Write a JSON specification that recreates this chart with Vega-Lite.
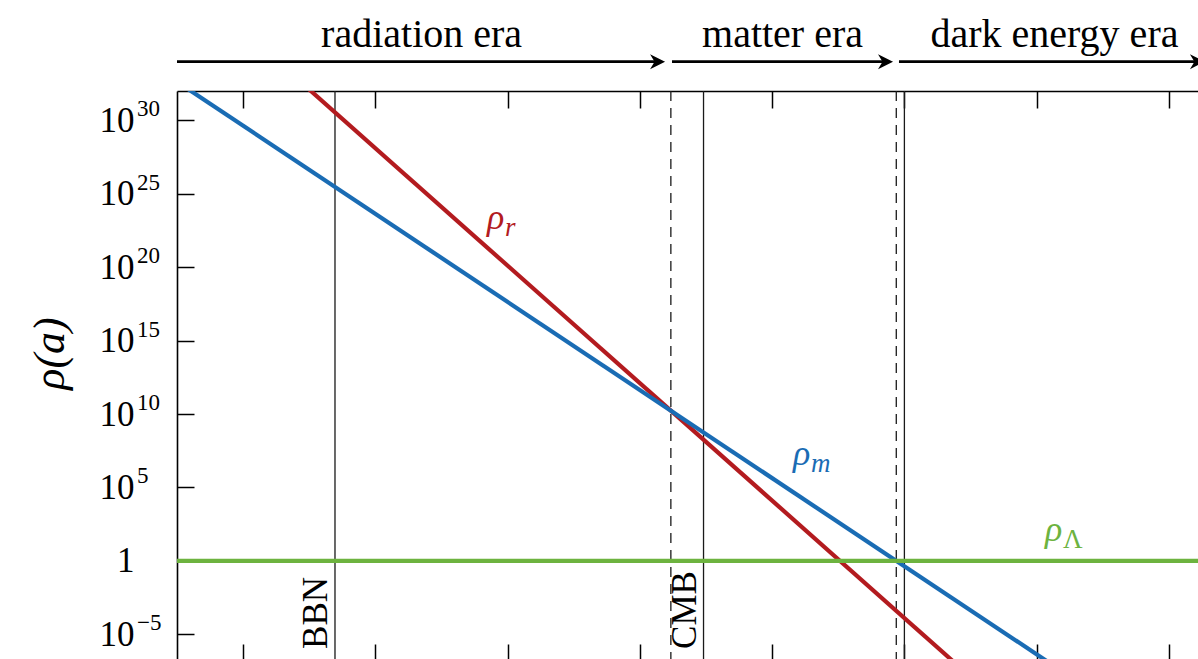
{
  "$schema": "https://vega.github.io/schema/vega-lite/v6.json",
  "width": 1021,
  "height": 568,
  "autosize": {"type": "none"},
  "padding": {"left": 177, "top": 91, "right": 0, "bottom": 0},
  "background": "white",
  "config": {
    "view": {"stroke": null},
    "font": "Liberation Serif",
    "text": {"font": "Liberation Serif"},
    "axis": {"grid": false, "domainColor": "#000000", "tickColor": "#000000", "domainWidth": 1.6, "tickWidth": 1.5, "labelColor": "#000000", "titleColor": "#000000"}
  },
  "datasets": {
    "densities": [
      {"series": "rho_r", "a": 1e-11, "rho": 1.26e40},
      {"series": "rho_r", "a": 27542, "rho": 2.2e-22},
      {"series": "rho_m", "a": 1e-11, "rho": 4.286e32},
      {"series": "rho_m", "a": 27542, "rho": 2.05e-14},
      {"series": "rho_L", "a": 1e-11, "rho": 1},
      {"series": "rho_L", "a": 27542, "rho": 1}
    ],
    "epochs": [
      {"name": "BBN", "a": 2.45e-9, "kind": "event"},
      {"name": "CMB", "a": 9.17e-4, "kind": "event"},
      {"name": "", "a": 1, "kind": "event"},
      {"name": "", "a": 2.94e-4, "kind": "equality"},
      {"name": "", "a": 0.7539, "kind": "equality"}
    ],
    "curveLabels": [
      {"series": "rho_r", "a": 4.89e-7, "rho": 4.17e22, "sub": "r"},
      {"series": "rho_m", "a": 0.0207, "rho": 3.43e6, "sub": "m"},
      {"series": "rho_L", "a": 133.7, "rho": 22.7, "sub": "Λ"}
    ],
    "eras": [
      {"era": "radiation era", "start": 1e-11, "end": 1.85e-4, "mid": 5.0e-8},
      {"era": "matter era", "start": 3.06e-4, "end": 0.518, "mid": 0.01435},
      {"era": "dark energy era", "start": 0.828, "end": 27000, "mid": 185.8}
    ],
    "exponents": [
      {"rho": 1e30, "exp": "30"},
      {"rho": 1e25, "exp": "25"},
      {"rho": 1e20, "exp": "20"},
      {"rho": 1e15, "exp": "15"},
      {"rho": 1e10, "exp": "10"},
      {"rho": 1e5, "exp": "5"},
      {"rho": 1e-5, "exp": "−5"}
    ]
  },
  "resolve": {"axis": {"x": "independent", "y": "independent"}},
  "layer": [
    {
      "data": {"name": "epochs"},
      "mark": {"type": "rule", "color": "#1a1a1a", "strokeWidth": 1.3},
      "encoding": {
        "x": {"field": "a", "type": "quantitative", "scale": {"type": "log", "domain": [1e-11, 27542], "nice": false},
          "axis": {"orient": "bottom", "values": [1e-10, 1e-8, 1e-6, 1e-4, 0.01, 1, 100, 10000], "labels": false, "domain": false, "tickSize": -15, "title": null}},
        "strokeDash": {"field": "kind", "type": "nominal", "scale": {"domain": ["event", "equality"], "range": [[1, 0], [10, 7]]}, "legend": null}
      }
    },
    {
      "data": {"name": "densities"},
      "mark": {"type": "line", "clip": true},
      "encoding": {
        "x": {"field": "a", "type": "quantitative", "scale": {"type": "log", "domain": [1e-11, 27542], "nice": false},
          "axis": {"orient": "top", "values": [1e-10, 1e-8, 1e-6, 1e-4, 0.01, 1, 100, 10000], "labels": false, "domain": true, "tickSize": -17, "title": null}},
        "y": {"field": "rho", "type": "quantitative", "scale": {"type": "log", "domain": [2.065e-7, 1e32], "nice": false},
          "axis": {"orient": "left", "values": [1e-5, 1, 1e5, 1e10, 1e15, 1e20, 1e25, 1e30], "tickSize": -17, "domain": true,
            "labelExpr": "datum.value == 1 ? '1' : '10'",
            "labelAlign": "right", "labelBaseline": "middle", "labelPadding": 60, "labelFontSize": 35, "labelFont": "Liberation Serif",
            "title": "ρ(a)", "titleFontSize": 44, "titleFontStyle": "italic", "titleFontWeight": 300, "titleFont": "Liberation Serif",
            "titleX": -127, "titleY": 262, "titleAngle": 270, "titleAlign": "center", "titleBaseline": "middle"}},
        "color": {"field": "series", "type": "nominal", "scale": {"domain": ["rho_r", "rho_m", "rho_L"], "range": ["#b31b1f", "#1a6cb4", "#6db33f"]}, "legend": null},
        "strokeWidth": {"field": "series", "type": "nominal", "scale": {"domain": ["rho_r", "rho_m", "rho_L"], "range": [4.2, 4.2, 5.6]}, "legend": null}
      }
    },
    {
      "data": {"name": "exponents"},
      "mark": {"type": "text", "align": "left", "baseline": "alphabetic", "fontSize": 23, "dx": -40, "dy": -4, "color": "#000000", "font": "Liberation Serif"},
      "encoding": {
        "x": {"datum": 1e-11, "type": "quantitative", "scale": {"type": "log", "domain": [1e-11, 27542], "nice": false}, "axis": null},
        "y": {"field": "rho", "type": "quantitative", "scale": {"type": "log", "domain": [2.065e-7, 1e32], "nice": false}, "axis": null},
        "text": {"field": "exp"}
      }
    },
    {
      "data": {"name": "epochs"},
      "transform": [{"filter": "datum.name != ''"}],
      "mark": {"type": "text", "angle": 270, "align": "left", "baseline": "alphabetic", "dy": -8, "fontSize": 35, "color": "#000000", "font": "Liberation Serif"},
      "encoding": {
        "x": {"field": "a", "type": "quantitative", "scale": {"type": "log", "domain": [1e-11, 27542], "nice": false}, "axis": null},
        "y": {"datum": 1e-6, "type": "quantitative", "scale": {"type": "log", "domain": [2.065e-7, 1e32], "nice": false}, "axis": null},
        "text": {"field": "name"}
      }
    },
    {
      "data": {"name": "curveLabels"},
      "mark": {"type": "text", "align": "left", "baseline": "alphabetic", "fontSize": 36, "fontStyle": "italic", "font": "Liberation Serif"},
      "encoding": {
        "x": {"field": "a", "type": "quantitative", "scale": {"type": "log", "domain": [1e-11, 27542], "nice": false}, "axis": null},
        "y": {"field": "rho", "type": "quantitative", "scale": {"type": "log", "domain": [2.065e-7, 1e32], "nice": false}, "axis": null},
        "text": {"value": "ρ"},
        "color": {"field": "series", "type": "nominal", "scale": {"domain": ["rho_r", "rho_m", "rho_L"], "range": ["#b31b1f", "#1a6cb4", "#6db33f"]}, "legend": null}
      }
    },
    {
      "data": {"name": "curveLabels"},
      "transform": [{"filter": "datum.sub != 'Λ'"}],
      "mark": {"type": "text", "align": "left", "baseline": "alphabetic", "fontSize": 27, "fontStyle": "italic", "dx": 18, "dy": 7, "font": "Liberation Serif"},
      "encoding": {
        "x": {"field": "a", "type": "quantitative", "scale": {"type": "log", "domain": [1e-11, 27542], "nice": false}, "axis": null},
        "y": {"field": "rho", "type": "quantitative", "scale": {"type": "log", "domain": [2.065e-7, 1e32], "nice": false}, "axis": null},
        "text": {"field": "sub"},
        "color": {"field": "series", "type": "nominal", "scale": {"domain": ["rho_r", "rho_m", "rho_L"], "range": ["#b31b1f", "#1a6cb4", "#6db33f"]}, "legend": null}
      }
    },
    {
      "data": {"name": "curveLabels"},
      "transform": [{"filter": "datum.sub == 'Λ'"}],
      "mark": {"type": "text", "align": "left", "baseline": "alphabetic", "fontSize": 27, "dx": 18, "dy": 7, "font": "Liberation Serif"},
      "encoding": {
        "x": {"field": "a", "type": "quantitative", "scale": {"type": "log", "domain": [1e-11, 27542], "nice": false}, "axis": null},
        "y": {"field": "rho", "type": "quantitative", "scale": {"type": "log", "domain": [2.065e-7, 1e32], "nice": false}, "axis": null},
        "text": {"field": "sub"},
        "color": {"field": "series", "type": "nominal", "scale": {"domain": ["rho_r", "rho_m", "rho_L"], "range": ["#b31b1f", "#1a6cb4", "#6db33f"]}, "legend": null}
      }
    },
    {
      "data": {"name": "eras"},
      "mark": {"type": "rule", "color": "#000000", "strokeWidth": 2.6},
      "encoding": {
        "x": {"field": "start", "type": "quantitative", "scale": {"type": "log", "domain": [1e-11, 27542], "nice": false}, "axis": null},
        "x2": {"field": "end"},
        "y": {"datum": 1e34, "type": "quantitative", "scale": {"type": "log", "domain": [2.065e-7, 1e32], "nice": false}, "axis": null}
      }
    },
    {
      "data": {"name": "eras"},
      "mark": {"type": "point", "filled": true, "opacity": 1, "color": "#000000", "size": 900, "shape": "M0.5,0 L-0.5,-0.5 L-0.2,0 L-0.5,0.5 Z"},
      "encoding": {
        "x": {"field": "end", "type": "quantitative", "scale": {"type": "log", "domain": [1e-11, 27542], "nice": false}, "axis": null},
        "y": {"datum": 1e34, "type": "quantitative", "scale": {"type": "log", "domain": [2.065e-7, 1e32], "nice": false}, "axis": null}
      }
    },
    {
      "data": {"name": "eras"},
      "mark": {"type": "text", "align": "center", "baseline": "alphabetic", "fontSize": 40, "color": "#000000", "font": "Liberation Serif"},
      "encoding": {
        "x": {"field": "mid", "type": "quantitative", "scale": {"type": "log", "domain": [1e-11, 27542], "nice": false}, "axis": null},
        "y": {"datum": 1.05e35, "type": "quantitative", "scale": {"type": "log", "domain": [2.065e-7, 1e32], "nice": false}, "axis": null},
        "text": {"field": "era"}
      }
    }
  ]
}
